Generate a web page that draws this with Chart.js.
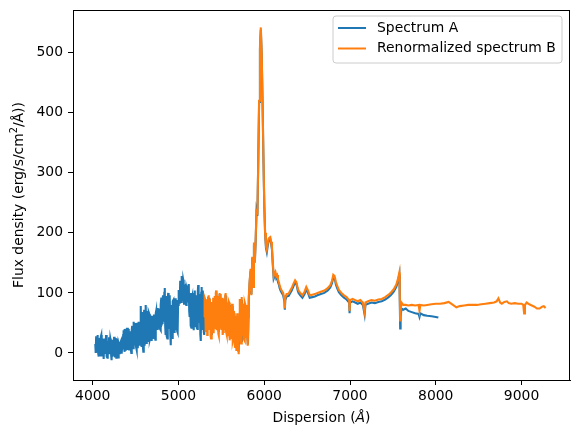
<!DOCTYPE html>
<html>
<head>
<meta charset="utf-8">
<script src="https://cdn.jsdelivr.net/npm/chart.js@4.4.1/dist/chart.umd.min.js"></script>
<style>
  html, body { margin: 0; padding: 0; background: #fff; }
  #spec { display: block; }
</style>
</head>
<body>
<canvas id="spec" width="578" height="438"></canvas>
<script>
// spectrum A (blue)
var waveA = [4030,4035,4040,4045,4050,4055,4060,4065,4070,4075,4080,4085,4090,4095,4100,4105,4110,4115,4120,4125,
  4130,4135,4140,4145,4150,4155,4160,4165,4170,4175,4180,4185,4190,4195,4200,4205,4210,4215,4220,4225,
  4230,4235,4240,4245,4250,4255,4260,4265,4270,4275,4280,4285,4290,4295,4300,4305,4310,4315,4320,4325,
  4330,4335,4340,4345,4350,4355,4360,4365,4370,4375,4380,4385,4390,4395,4400,4405,4410,4415,4420,4425,
  4430,4435,4440,4445,4450,4455,4460,4465,4470,4475,4480,4485,4490,4495,4500,4505,4510,4515,4520,4525,
  4530,4535,4540,4545,4550,4555,4560,4565,4570,4575,4580,4585,4590,4595,4600,4605,4610,4615,4620,4625,
  4630,4635,4640,4645,4650,4655,4660,4665,4670,4675,4680,4685,4690,4695,4700,4705,4710,4715,4720,4725,
  4730,4735,4740,4745,4750,4755,4760,4765,4770,4775,4780,4785,4790,4795,4800,4805,4810,4815,4820,4825,
  4830,4835,4840,4845,4850,4855,4860,4865,4870,4875,4880,4885,4890,4895,4900,4905,4910,4915,4920,4925,
  4930,4935,4940,4945,4950,4955,4960,4965,4970,4975,4980,4985,4990,4995,5000,5005,5010,5015,5020,5025,
  5030,5035,5040,5045,5050,5055,5060,5065,5070,5075,5080,5085,5090,5095,5100,5105,5110,5115,5120,5125,
  5130,5135,5140,5145,5150,5155,5160,5165,5170,5175,5180,5185,5190,5195,5200,5205,5210,5215,5220,5225,
  5230,5235,5240,5245,5250,5255,5260,5265,5270,5275,5280,5285,5290,5295,5300,
  5310,5320,5330,5340,5350,5360,5370,5380,5390,5400,
  5410,5420,5430,5440,5450,5460,5470,5480,5490,5500,5510,5520,5530,5540,5550,5560,5570,5580,5590,5600,
  5610,5620,5630,5640,5650,5660,5670,5680,5690,5700,5710,5720,5730,5740,5750,5760,5770,5780,5790,5800,
  5810,5820,5830,5840,5850,5860,5870,5880,5890,5900,5910,5920,5930,5940,5950,5960,5970,5980,5990,6000,
  6010,6020,6030,6040,6050,6060,6070,6080,6090,6100,6110,6120,6130,6140,6150,6160,6170,6180,6190,6200,
  6220,6235,6240,6245,6260,6285,6300,6320,6340,6360,6375,6390,6400,6420,6445,6470,6490,6510,6530,6560,
  6590,6620,6660,6700,6740,6770,6790,6805,6820,6835,6850,6870,6900,6930,6960,6990,6995,7000,7030,7060,
  7090,7120,7150,7170,7180,7210,7250,7290,7330,7370,7410,7450,7480,7510,7540,7560,7575,7580,7585,7590,
  7600,7620,7650,7680,7720,7760,7800,7810,7820,7860,7900,7950,8000,8030];
var fluxA = [15,0,28,12,2,30,22,-2,-6,12,25,-4,8,26,30,5,-4,24,18,-8,
  -10,20,24,0,5,30,28,-6,-8,20,14,2,26,10,-2,24,20,-4,-12,22,
  16,-6,4,20,27,2,-6,25,22,-8,0,24,18,2,-9,16,12,-2,3,18,
  20,5,-1,14,15,30,38,8,2,40,30,4,10,35,42,12,5,40,35,6,
  15,36,28,8,0,38,45,12,8,46,52,14,20,50,38,10,5,42,50,8,
  25,52,44,18,12,48,78,20,10,68,60,15,2,55,72,12,30,75,80,28,
  15,70,55,20,40,68,65,22,25,62,58,28,20,60,62,25,35,64,48,30,
  22,66,70,40,40,72,75,42,45,74,60,40,38,80,92,48,50,90,96,52,
  60,100,108,45,30,95,85,28,24,90,100,40,60,94,96,30,13,70,80,25,
  40,86,88,40,35,85,91,38,50,88,78,36,34,80,85,105,95,82,120,90,
  85,124,128,88,100,122,118,82,85,110,112,82,80,108,105,84,90,112,115,70,
  60,98,100,45,42,92,95,48,70,100,38,90,104,45,55,96,88,42,40,102,
  113,50,60,98,90,30,20,100,110,40,45,104,95,35,30,
  70,88,42,78,55,92,45,70,30,80,
  40,90,62,100,50,85,35,98,65,45,88,40,82,58,96,35,75,52,80,25,
  65,45,78,30,60,15,50,8,58,2,41,80,20,88,48,70,25,78,55,35,
  14,90,118,136,98,158,112,180,152,186,236,228,318,418,505,538,498,418,328,248,
  198,175,168,178,186,190,190,182,172,146,124,128,131,124,126,118,114,108,104,101,
  96,86,72,88,94,95,99,104,111,117,115,104,100,96,92,98,106,100,92,93,
  94,96,98,100,104,109,116,126,125,114,108,101,96,92,89,84,66,84,86,84,
  82,84,80,64,80,82,84,83,85,86,89,93,97,102,110,120,130,90,41,60,
  74,72,74,70,68,66,65,60,66,63,62,61,60,59];

// renormalized spectrum B (orange)
var waveB = [5300,5305,5310,5315,5320,5325,5330,5335,5340,5345,5350,5355,5360,5365,5370,5375,5380,5385,5390,5395,
  5400,5405,5410,5415,5420,5425,5430,5435,5440,5445,5450,5455,5460,5465,5470,5475,5480,5485,5490,5495,
  5500,5505,5510,5515,5520,5525,5530,5535,5540,5545,5550,5555,5560,5565,5570,5575,5580,5585,5590,5595,
  5600,5605,5610,5615,5620,5625,5630,5635,5640,5645,5650,5655,5660,5665,5670,5675,5680,5685,5690,5695,
  5700,5705,5710,5715,5720,5725,5730,5735,5740,5745,5750,5755,5760,5765,5770,5775,5780,5785,5790,5795,
  5800,5805,5810,5815,5820,5830,5840,5850,5860,5870,5880,5890,
  5900,5910,5920,5930,5940,5950,5960,5970,5980,5990,6000,6010,6020,6030,6040,6050,6060,6070,6080,6090,
  6100,6110,6120,6130,6140,6150,6160,6170,6180,6190,6200,6220,6235,6240,6245,6260,6285,6300,6320,6340,
  6360,6375,6390,6400,6420,6445,6470,6490,6510,6530,6560,6590,6620,6660,6700,6740,6770,6790,6805,6820,
  6835,6850,6870,6900,6930,6960,6990,6995,7000,7030,7060,7090,7120,7150,7170,7180,7210,7250,7290,7330,
  7370,7410,7450,7480,7510,7540,7560,7575,7580,7585,7590,7600,7620,7650,7680,7720,7760,7800,7810,7820,
  7860,7900,7950,8000,8050,8100,8150,8200,8240,8280,8330,8380,8430,8480,8530,8580,8630,8680,8710,8730,
  8750,8770,8800,8830,8850,8880,8920,8960,9000,9020,9030,9040,9060,9090,9120,9150,9180,9210,9240,9260,9280];
var fluxB = [60,92,90,40,35,88,80,30,50,94,96,45,40,90,75,28,24,80,85,35,
  55,92,33,70,95,40,60,100,104,38,45,95,88,32,29,85,100,42,70,98,
  40,80,92,30,35,90,85,40,55,96,100,35,30,82,78,28,50,86,84,30,
  21,78,70,25,40,82,80,20,25,70,66,15,10,62,55,5,30,66,62,10,
  -2,60,40,90,85,25,16,88,93,30,45,82,75,22,20,84,80,40,60,25,
  30,80,12,60,95,120,140,96,160,110,184,150,
  190,240,230,320,420,510,542,500,420,330,250,200,178,172,182,190,192,193,185,175,
  150,128,132,135,128,130,122,118,112,108,105,100,90,74,92,98,99,103,108,115,
  121,118,108,104,100,96,102,110,104,96,97,98,100,102,104,108,113,120,130,128,
  118,112,105,100,96,93,88,70,88,90,88,86,88,84,68,84,86,88,87,89,
  90,93,97,101,106,114,124,134,100,54,70,84,80,80,79,80,79,80,70,80,
  79,80,81,82,82,83,85,80,76,78,79,80,80,80,81,82,83,84,86,91,
  84,82,85,86,83,82,83,82,82,80,66,80,84,81,79,77,74,74,77,78,75];

var xTicks = [4000, 5000, 6000, 7000, 8000, 9000];
var yTicks = [0, 100, 200, 300, 400, 500];

function pts(xs, ys) {
  return xs.map(function (x, i) { return { x: x, y: ys[i] }; });
}

var FONT = "'DejaVu Sans', sans-serif";
Chart.defaults.font.family = FONT;
Chart.defaults.color = '#000';

// frame, axis labels and legend drawn the matplotlib way
var decor = {
  id: 'decor',
  afterDraw: function (chart) {
    var c = chart.ctx, a = chart.chartArea;
    c.save();
    c.strokeStyle = '#000';
    c.lineWidth = 1;
    c.strokeRect(a.left + 0.5, a.top + 0.5, a.right - a.left - 1, a.bottom - a.top);

    // x label with italic angstrom
    c.fillStyle = '#000';
    c.textBaseline = 'middle';
    var norm = '13.9px ' + FONT, ital = 'italic 13.9px ' + FONT;
    var segs = [['Dispersion (', norm], ['Å', ital], [')', norm]];
    var w = 0;
    segs.forEach(function (s) { c.font = s[1]; w += c.measureText(s[0]).width; });
    var x = (a.left + a.right) / 2 - w / 2;
    segs.forEach(function (s) { c.font = s[1]; c.fillText(s[0], x, 418); x += c.measureText(s[0]).width; });

    // y label with superscript 2
    c.save();
    c.translate(19, (a.top + a.bottom) / 2);
    c.rotate(-Math.PI / 2);
    var sup = '9.7px ' + FONT;
    var ysegs = [['Flux density (erg/s/cm', norm, 0], ['2', sup, -5], ['/Å))', norm, 0]];
    w = 0;
    ysegs.forEach(function (s) { c.font = s[1]; w += c.measureText(s[0]).width; });
    x = -w / 2;
    ysegs.forEach(function (s) { c.font = s[1]; c.fillText(s[0], x, s[2]); x += c.measureText(s[0]).width; });
    c.restore();

    // legend box
    var bx = 333, by = 16, bw = 229, bh = 47, r = 3;
    c.beginPath();
    c.moveTo(bx + r, by);
    c.arcTo(bx + bw, by, bx + bw, by + bh, r);
    c.arcTo(bx + bw, by + bh, bx, by + bh, r);
    c.arcTo(bx, by + bh, bx, by, r);
    c.arcTo(bx, by, bx + bw, by, r);
    c.closePath();
    c.fillStyle = 'rgba(255,255,255,0.8)';
    c.fill();
    c.strokeStyle = '#cccccc';
    c.lineWidth = 1;
    c.stroke();
    var items = [['Spectrum A', '#1f77b4', 28], ['Renormalized spectrum B', '#ff7f0e', 48.5]];
    items.forEach(function (it) {
      c.strokeStyle = it[1];
      c.lineWidth = 2;
      c.beginPath();
      c.moveTo(338, it[2]);
      c.lineTo(366, it[2]);
      c.stroke();
      c.fillStyle = '#000';
      c.font = norm;
      c.fillText(it[0], 377, it[2]);
    });
    c.restore();
  }
};

function noPad(s) {
  s.paddingTop = 0; s.paddingBottom = 0; s.paddingLeft = 0; s.paddingRight = 0;
}

var ctx = document.getElementById('spec').getContext('2d');
var chart = new Chart(ctx, {
  type: 'line',
  data: {
    datasets: [
      {
        label: 'Spectrum A',
        data: pts(waveA, fluxA),
        borderColor: '#1f77b4',
        borderWidth: 2.1,
        pointRadius: 0,
        tension: 0,
        order: 1
      },
      {
        label: 'Renormalized spectrum B',
        data: pts(waveB, fluxB),
        borderColor: '#ff7f0e',
        borderWidth: 2.1,
        pointRadius: 0,
        tension: 0,
        order: 0
      }
    ]
  },
  options: {
    responsive: false,
    animation: false,
    devicePixelRatio: 1,
    layout: { padding: { top: 10, right: 8, left: 0, bottom: 0 } },
    plugins: { legend: { display: false }, tooltip: { enabled: false } },
    scales: {
      x: {
        type: 'linear',
        min: 3770,
        max: 9565,
        afterBuildTicks: function (s) { s.ticks = xTicks.map(function (v) { return { value: v }; }); },
        afterFit: function (s) { s.height = 58; noPad(s); },
        ticks: { font: { size: 13.9 }, color: '#000', padding: 3, maxRotation: 0, callback: function (v) { return String(v); } },
        grid: { drawOnChartArea: false, tickLength: 5, color: '#000', tickWidth: 1 },
        border: { display: true, color: '#000', width: 1 }
      },
      y: {
        type: 'linear',
        min: -45,
        max: 571,
        afterBuildTicks: function (s) { s.ticks = yTicks.map(function (v) { return { value: v }; }); },
        afterFit: function (s) { s.width = 73; noPad(s); },
        ticks: { font: { size: 13.9 }, color: '#000', padding: 5, callback: function (v) { return String(v); } },
        grid: { drawOnChartArea: false, tickLength: 5, color: '#000', tickWidth: 1 },
        border: { display: true, color: '#000', width: 1 }
      }
    }
  },
  plugins: [decor]
});
</script>
</body>
</html>
